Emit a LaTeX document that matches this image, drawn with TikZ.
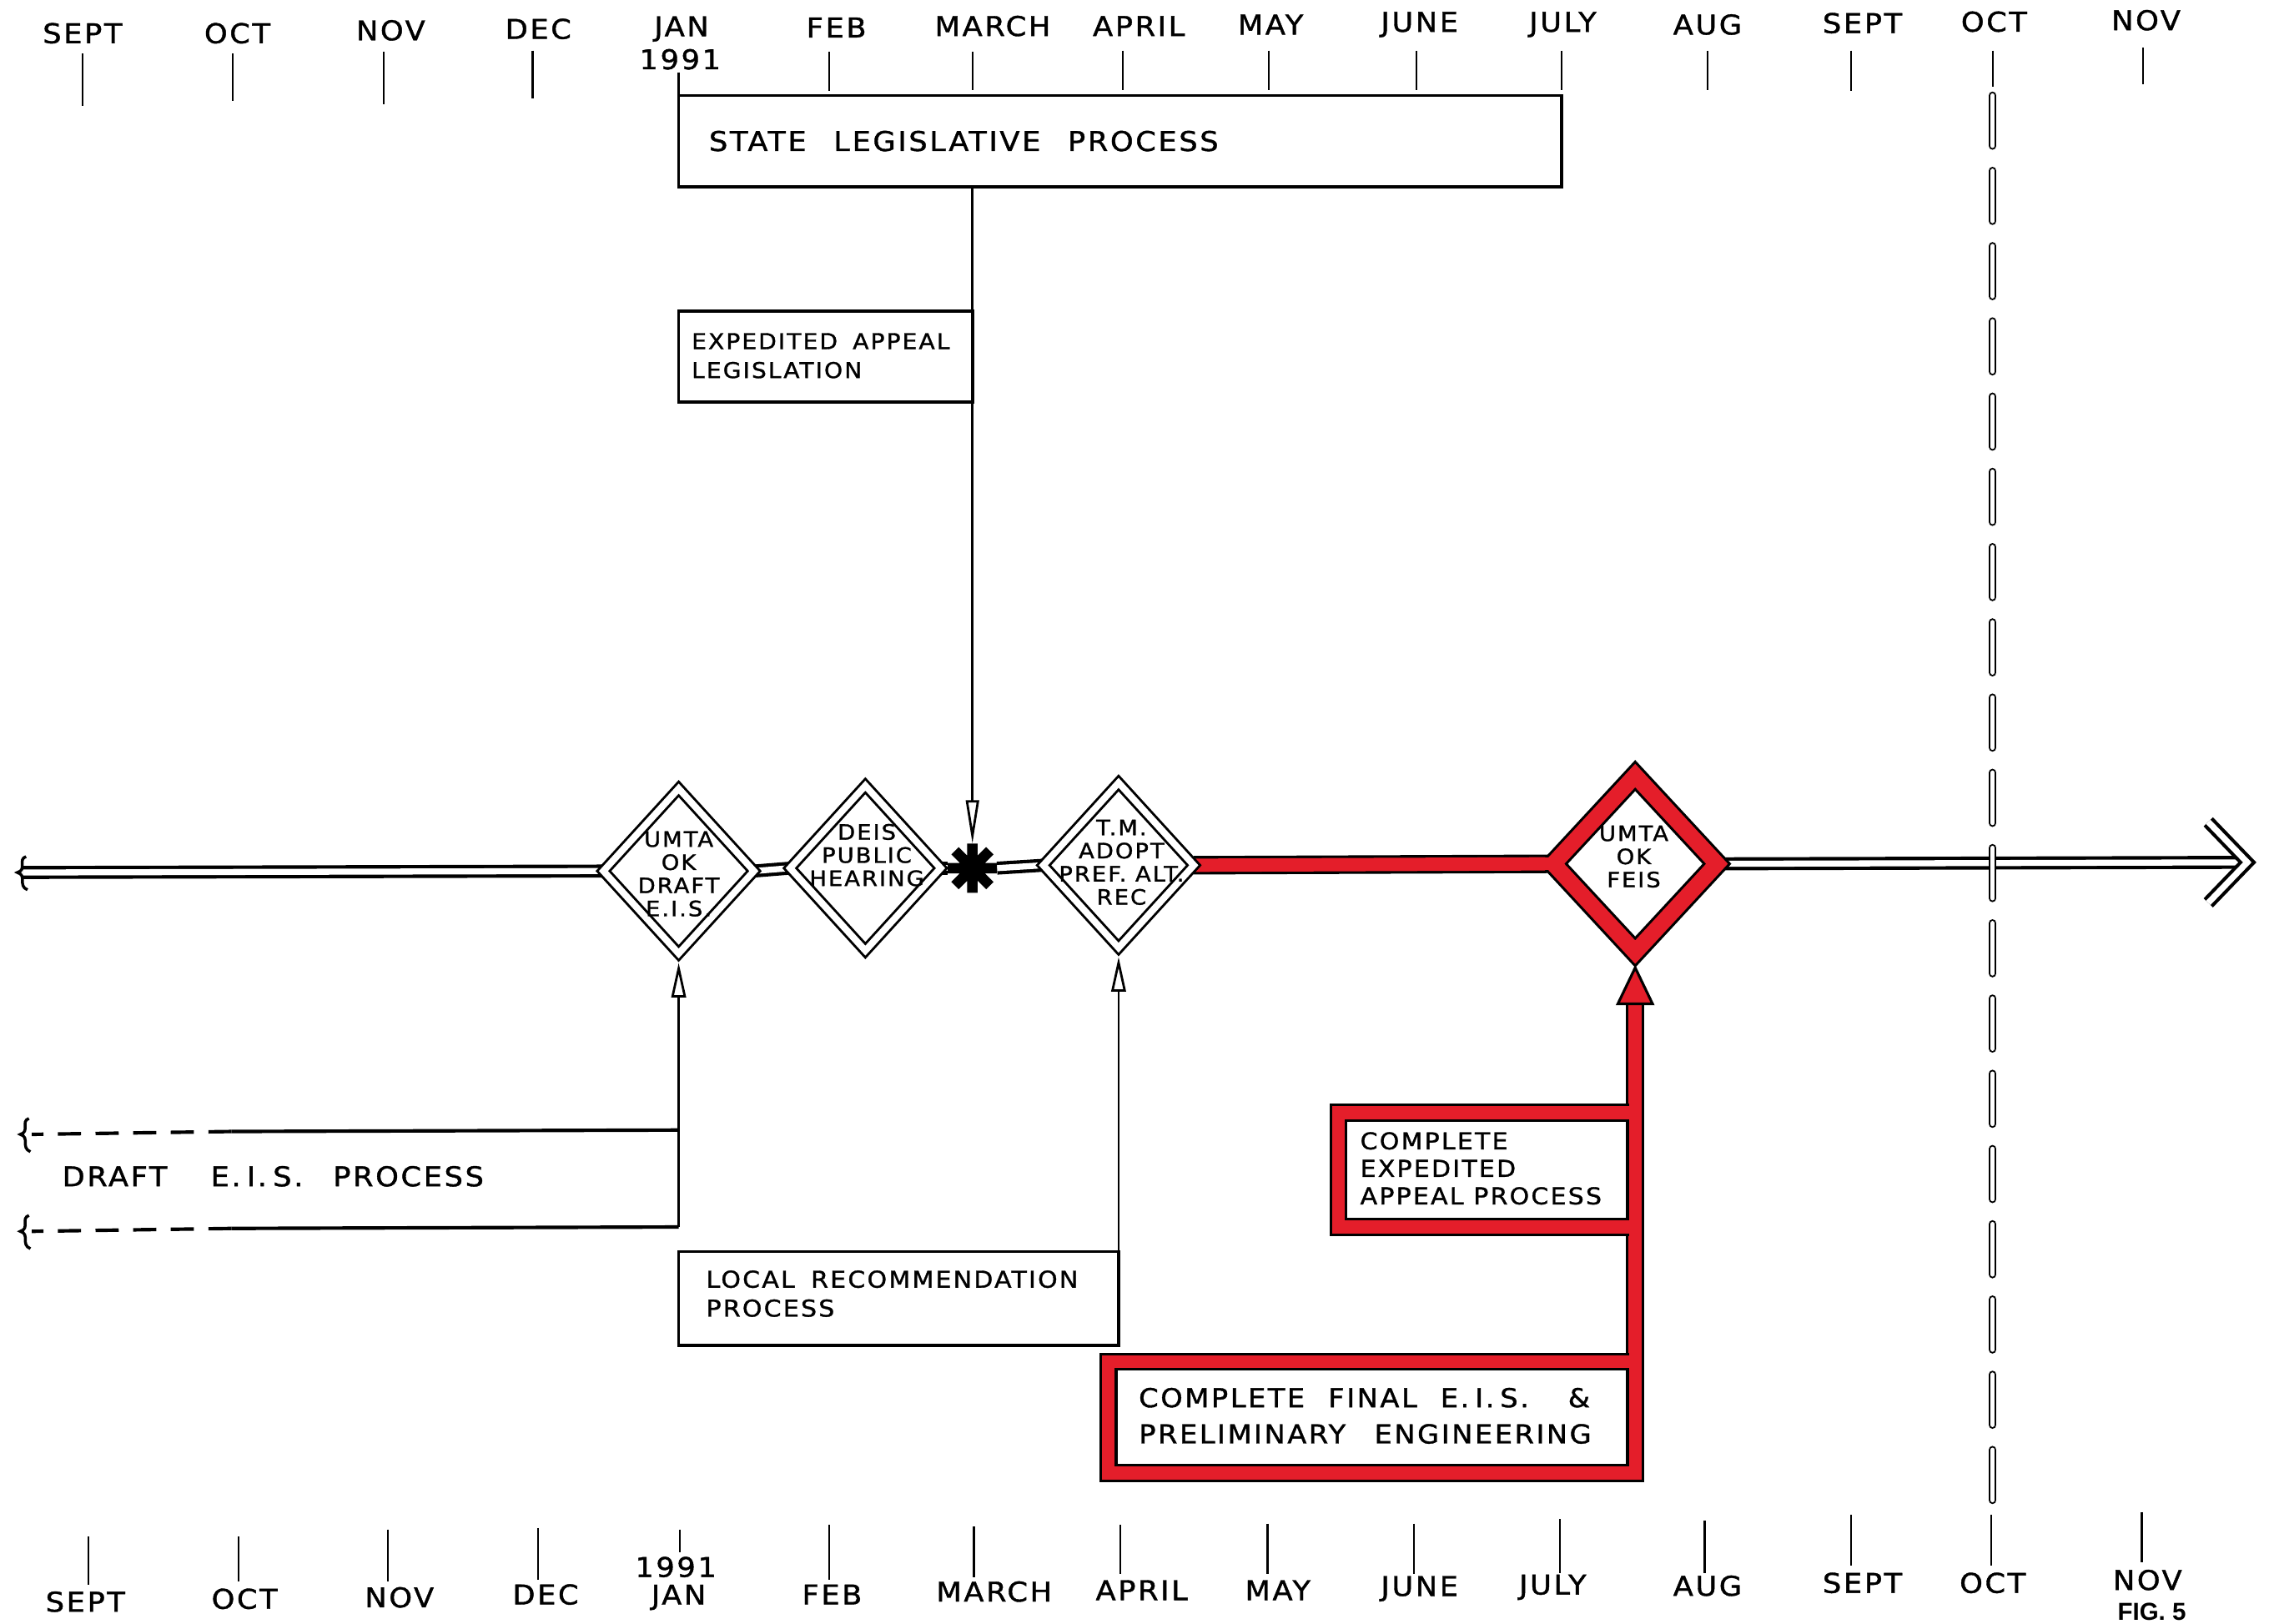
\documentclass[tikz,border=0pt]{standalone}
\usepackage{fontspec}
\newfontfamily\hand[FakeStretch=1.08,LetterSpace=8,FakeBold=1.2]{DejaVu Sans}
\newfontfamily\figlabel{Liberation Sans}
\usetikzlibrary{shapes.geometric,arrows.meta,calc}
\definecolor{markred}{RGB}{228,30,42}
\newcommand\wgap{\hspace{0.7em}}
\newcommand\dotgap{\hspace{0.22em}}
\pgfdeclarelayer{paper}
\pgfdeclarelayer{links}
\pgfsetlayers{paper,links,main}
\tikzset{
  tailcurl/.pic={\draw[line width=1pt] (6,-11) .. controls (0,-9) and (7,-2) .. (0,0) .. controls (7,2) and (0,9) .. (7,12);},
}
\begin{document}
\begin{tikzpicture}[x=0.5pt,y=-0.5pt,
  every node/.style={inner sep=0pt, outer sep=0pt},
  month/.style={font=\hand\fontsize{9.4}{10}\selectfont},
  tick/.style={line width=0.65pt},
  thinline/.style={line width=0.8pt},
  procbox/.style={draw, fill=white, line width=1.1pt},
  boxtext/.style={anchor=west, align=left},
  redbox/.style={draw, fill=white, line width=0.9pt, double=markred, double distance=4.4pt},
  redband/.style={draw, line width=0.9pt, double=markred, double distance=4.6pt},
  redcore/.style={draw=markred, line width=4.4pt},
  mainline/.style={draw, line width=1.2pt, double=white, double distance=2.1pt},
  wdia/.style={diamond, draw, fill=white, line width=0.85pt, double=white, double distance=2.3pt, minimum width=52pt, minimum height=57pt},
  rdia/.style={diamond, draw, fill=white, line width=0.9pt, double=markred, double distance=5.5pt, minimum width=56.5pt, minimum height=61pt},
  dtext/.style={align=center, font=\hand\fontsize{7.3}{8}\selectfont},
  uparrow/.style={thinline, -{Triangle[open, width=5pt, length=12pt, line width=0.8pt]}},
  downarrow/.style={thinline, -{Triangle[open, width=4.5pt, length=15pt, line width=0.8pt]}},
]
\begin{pgfonlayer}{paper}
  \fill[white] (0,0) rectangle (1568,1122);
\end{pgfonlayer}
\useasboundingbox (0,0) rectangle (1568,1122);

% month scale along the top
\foreach \i/\x/\y/\m in {1/57/23/SEPT,2/164/23/OCT,3/270/21/NOV,4/372/20/DEC,5/471/20/JAN,6/578/19/FEB,7/686/18/MARCH,8/787/18/APRIL,9/878/17/MAY,10/981/17/JUNE,11/1080/17/JULY,12/1180/17/AUG,13/1287/16/SEPT,14/1378/15/OCT,15/1483/14/NOV}
  \node[month] (tm\i) at (\x,\y) {\m};
\node[month] (tyear) at (470,41) {1991};
\foreach \x/\a/\b in {57/37/73,161/37/70,265/36/72,368/35/68,469/50/66,573/36/63,672/36/62,776/35/62,877/35/62,979/35/62,1079/35/62,1180/35/62,1279/35/63,1377/35/60,1481/33/58}
  \draw[tick] (\x,\a) -- (\x,\b);

% month scale along the bottom
\foreach \i/\x/\y/\m in {1/59/1107/SEPT,2/169/1105/OCT,3/276/1104/NOV,4/377/1102/DEC,5/469/1104/JAN,6/575/1102/FEB,7/687/1100/MARCH,8/789/1099/APRIL,9/883/1099/MAY,10/981/1098/JUNE,11/1073/1097/JULY,12/1180/1096/AUG,13/1287/1094/SEPT,14/1377/1094/OCT,15/1484/1092/NOV}
  \node[month] (bm\i) at (\x,\y) {\m};
\node[month] (byear) at (467,1083) {1991};
\foreach \x/\a/\b in {61/1062/1095,165/1062/1093,268/1057/1093,372/1056/1092,470/1057/1073,573/1054/1092,673/1055/1090,774/1054/1088,876/1053/1088,977/1053/1088,1078/1050/1087,1178/1051/1087,1279/1047/1082,1376/1047/1082,1480/1045/1080}
  \draw[tick] (\x,\a) -- (\x,\b);
\node[font=\figlabel\bfseries\fontsize{8.5}{9}\selectfont] (fig) at (1487,1114) {FIG. 5};

% process boxes
\node[procbox, minimum width=305pt, minimum height=31.5pt] (state) at (774,97.5) {};
\node[boxtext, font=\hand\fontsize{9.4}{10}\selectfont] (statet) at ([xshift=10.5pt]state.west) {STATE\hspace{1em}LEGISLATIVE\hspace{1em}PROCESS};

\node[procbox, minimum width=101.5pt, minimum height=31.5pt] (expleg) at (570.5,246.5) {};
\node[boxtext, font=\hand\fontsize{7.5}{10}\selectfont] (explegt) at ([xshift=4.5pt,yshift=0.3pt]expleg.west) {EXPEDITED\wgap APPEAL\\LEGISLATION};

\node[procbox, minimum width=152pt, minimum height=32.5pt] (local) at (621,897.5) {};
\node[boxtext, font=\hand\fontsize{8}{10}\selectfont] (localt) at ([xshift=9.5pt,yshift=1.7pt]local.west) {LOCAL\wgap RECOMMENDATION\\PROCESS};

\node[font=\hand\fontsize{9.4}{10}\selectfont, anchor=west] (draft) at (43,813) {DRAFT\hspace{1.6em}E.\dotgap I.\dotgap S.\hspace{1.1em}PROCESS};

\node[redbox, minimum width=102.5pt, minimum height=39.5pt] (cexp) at (1027.5,808.5) {};
\node[boxtext, font=\hand\fontsize{8}{9.5}\selectfont] (cexpt) at ([xshift=7.5pt,yshift=0.5pt]cexp.west) {COMPLETE\\EXPEDITED\\APPEAL PROCESS};

\node[redbox, minimum width=182pt, minimum height=38.5pt] (fin) at (948,979.5) {};
\node[boxtext, font=\hand\fontsize{9}{12.5}\selectfont] (fint) at ([xshift=10.5pt,yshift=0.5pt]fin.west) {COMPLETE\hspace{0.9em}FINAL\hspace{0.9em}E.\dotgap I.\dotgap S.\hspace{1.5em}\&\\PRELIMINARY\hspace{1.1em}ENGINEERING};

% milestones on the main line
\node[wdia] (d1) at (469,602) {};
\node[dtext] (d1t) at (469,604) {UMTA\\OK\\DRAFT\\E.I.S.};
\node[wdia] (d2) at (598,600) {};
\node[dtext] (d2t) at (599,591) {DEIS\\PUBLIC\\HEARING};
\node[wdia] (d3) at (773,598) {};
\node[dtext] (d3t) at (775,596) {T.M.\\ADOPT\\PREF. ALT.\\REC};
\node[rdia] (d4) at (1130,597) {};
\node[dtext] (d4t) at (1129,592) {UMTA\\OK\\FEIS};

\node[circle, minimum size=17pt] (star) at (672,600) {};
\draw[line width=3.6pt] (star.0) -- (star.180) (star.45) -- (star.225) (star.90) -- (star.270) (star.135) -- (star.315);

% ends of the main line
\coordinate (mL) at (16,603);
\coordinate (tipR) at (1553,596);
\coordinate (chevA) at (1526,568);
\coordinate (chevB) at (1526,624);
\pic at (12,603) {tailcurl};

% draft E.I.S. process lines
\coordinate (eTR) at (469,781);
\coordinate (eBR) at (469,848);
\coordinate (eTM) at (160,782);
\coordinate (eBM) at (160,849);
\coordinate (eTL) at (22,784);
\coordinate (eBL) at (22,851);
\pic at (14,784) {tailcurl};
\pic at (14,851) {tailcurl};

% red arrow into the FEIS milestone
\coordinate (redTip) at ([yshift=-5.4pt]d4.south);
\coordinate (redBase) at ($(redTip)+(0,25)$);

\begin{pgfonlayer}{links}
  \draw[mainline] (mL) -- (d1.west);
  \draw[mainline] (d1.east) -- (d2.west);
  \draw[mainline] (d2.east) -- (star.west);
  \draw[mainline] (star.east) -- (d3.west);
  \draw[mainline] (d4.east) -- ([xshift=-2pt]tipR);
  \draw[mainline, line join=miter] (chevA) -- (tipR) -- (chevB);
  \draw[redband] (d3.east) -- (d4.west);
  \draw[downarrow] (state.south -| star.center) -- (star.north);
  \draw[line width=1.2pt] (eTR) -- (eTM);
  \draw[line width=1.2pt, dash pattern=on 8pt off 5pt] (eTM) -- (eTL);
  \draw[line width=1.2pt] (eBR) -- (eBM);
  \draw[line width=1.2pt, dash pattern=on 8pt off 5pt] (eBM) -- (eBL);
  \draw[thinline] (eBR) -- (eTR);
  \draw[uparrow] (eTR) -- ([yshift=-3.2pt]d1.south);
  \draw[uparrow] (local.north east) -- ([yshift=-3.2pt]d3.south);
  \draw[redband] (fin.north east) -- (redBase);
\end{pgfonlayer}

% red band runs cleanly through the joints
\draw[redcore] (redBase) -- (fin.north east);
\draw[redcore] ($(d4.west)+(-16,0)$) -- (d4.west);
\filldraw[fill=markred, line width=0.9pt, line join=miter] (redTip) -- ++(12,25) -- ++(-24,0) -- cycle;

% dashed October line
\coordinate (octTop) at (1377,66);
\coordinate (octBot) at (1377,1040);
\draw[line width=0.6pt, double=white, double distance=1.5pt, line cap=round, dash pattern=on 17.4pt off 8.6pt] (octTop) -- (octBot);
\end{tikzpicture}
\end{document}
